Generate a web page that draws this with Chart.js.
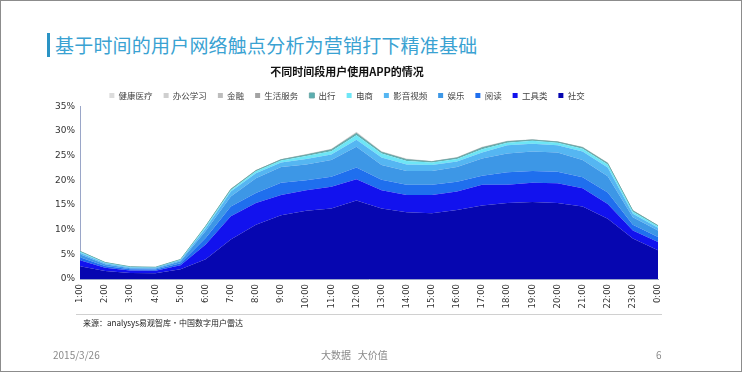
<!DOCTYPE html>
<html>
<head>
<meta charset="utf-8">
<script src="https://cdn.jsdelivr.net/npm/chart.js@4.4.1/dist/chart.umd.min.js"></script>
<style>
  html, body { margin: 0; padding: 0; background: #fff; }
  #slide { position: relative; width: 740px; height: 370px; border: 1px solid #8c8c8c; overflow: hidden;
           font-family: "Noto Sans CJK SC", "Noto Sans", sans-serif; }
  #bar { position: absolute; left: 46px; top: 32px; width: 3px; height: 24px; background: #2a93c4; }
  #head { position: absolute; left: 54px; top: 30px; font-size: 19px; color: #3aa2d2; letter-spacing: 0.2px; }
  #wrap { position: absolute; left: 0; top: 0; width: 740px; height: 370px; }
  #sep { position: absolute; left: 75px; top: 313px; width: 586px; height: 1px; background: #d0d0d0; }
  #src { position: absolute; left: 82px; top: 316px; font-size: 8px; color: #222; }
  .foot { position: absolute; top: 346px; font-size: 10px; color: #8a8a8a; }
</style>
</head>
<body>
<div id="slide">
  <div id="bar"></div>
  <div id="head">基于时间的用户网络触点分析为营销打下精准基础</div>
  <div id="wrap"><canvas id="chart"></canvas></div>
  <div id="sep"></div>
  <div id="src">来源：analysys易观智库·中国数字用户雷达</div>
  <div class="foot" style="left:52px">2015/3/26</div>
  <div class="foot" style="left:320px">大数据&nbsp;&nbsp;&nbsp;大价值</div>
  <div class="foot" style="left:655px">6</div>
</div>
<script>
// 不同时间段用户使用APP的情况 (%)
const hours = ['1:00', '2:00', '3:00', '4:00', '5:00', '6:00', '7:00', '8:00', '9:00', '10:00', '11:00', '12:00',
    '13:00', '14:00', '15:00', '16:00', '17:00', '18:00', '19:00', '20:00', '21:00', '22:00', '23:00', '0:00'];

// stacked bottom to top
const social   = [2.6, 1.6, 1.2, 1.15, 2.0, 4.0, 8.0, 11.0, 12.9, 13.8, 14.3, 15.9, 14.3, 13.5, 13.3, 14.0, 14.9, 15.4, 15.6, 15.4, 14.7, 12.2, 8.2, 5.8];
const tools    = [1.2, 0.7, 0.5, 0.5, 0.8, 3.0, 4.7, 4.4, 4.1, 4.2, 4.4, 4.3, 3.7, 3.5, 3.7, 3.7, 4.2, 3.7, 3.9, 4.0, 3.7, 3.0, 1.6, 1.7];
const reading  = [0.6, 0.35, 0.25, 0.25, 0.4, 1.3, 2.0, 2.0, 2.5, 2.0, 2.0, 2.4, 2.1, 2.1, 2.1, 2.0, 1.8, 2.5, 2.4, 2.3, 2.2, 2.3, 1.2, 1.0];
const fun      = [0.6, 0.35, 0.25, 0.25, 0.4, 1.4, 2.0, 3.0, 3.2, 3.2, 3.4, 4.2, 3.0, 2.8, 2.8, 3.0, 3.5, 3.8, 3.9, 3.9, 3.5, 3.3, 1.5, 1.3];
const video    = [0.3, 0.2, 0.15, 0.12, 0.2, 0.6, 1.0, 1.0, 0.9, 1.1, 1.1, 1.4, 1.5, 1.3, 1.2, 1.1, 1.2, 1.7, 1.6, 1.5, 1.7, 1.8, 0.7, 0.6];
const shopping = [0.2, 0.1, 0.1, 0.08, 0.1, 0.3, 0.3, 0.4, 0.4, 0.6, 0.7, 0.9, 0.8, 0.7, 0.5, 0.5, 0.7, 0.5, 0.6, 0.5, 0.6, 0.6, 0.4, 0.3];
const travel   = [0.1, 0.05, 0.03, 0.03, 0.05, 0.1, 0.15, 0.15, 0.15, 0.2, 0.25, 0.35, 0.25, 0.25, 0.15, 0.2, 0.25, 0.2, 0.15, 0.15, 0.2, 0.2, 0.2, 0.1];
const life     = [0.05, 0.03, 0.01, 0.01, 0.03, 0.05, 0.08, 0.08, 0.08, 0.1, 0.12, 0.17, 0.12, 0.12, 0.08, 0.1, 0.12, 0.1, 0.08, 0.08, 0.1, 0.1, 0.1, 0.05];
const finance  = [0.02, 0.01, 0.005, 0.005, 0.01, 0.02, 0.03, 0.03, 0.03, 0.05, 0.06, 0.08, 0.06, 0.06, 0.03, 0.05, 0.06, 0.05, 0.03, 0.03, 0.05, 0.05, 0.05, 0.02];
const office   = [0.02, 0.005, 0.003, 0.003, 0.005, 0.02, 0.02, 0.02, 0.02, 0.03, 0.04, 0.06, 0.04, 0.04, 0.02, 0.03, 0.04, 0.03, 0.02, 0.02, 0.03, 0.03, 0.03, 0.02];
const health   = [0.01, 0.005, 0.002, 0.002, 0.005, 0.01, 0.02, 0.02, 0.02, 0.02, 0.03, 0.04, 0.03, 0.03, 0.02, 0.02, 0.03, 0.02, 0.02, 0.02, 0.02, 0.02, 0.02, 0.01];

const seriesNames = ['社交', '工具类', '阅读', '娱乐', '影音视频', '电商', '出行', '生活服务', '金融', '办公学习', '健康医疗'];
const seriesData = [social, tools, reading, fun, video, shopping, travel, life, finance, office, health];
const colors = ['#0606b0', '#1212ee', '#1f6fee', '#3d97e6', '#55b6f2', '#6ee6f6', '#5aaeb0', '#a3a3a3', '#bdbdbd', '#cfcfcf', '#dcdcdc'];

const yTicks = [0, 5, 10, 15, 20, 25, 30, 35];

const ctx = document.getElementById('chart').getContext('2d');
new Chart(ctx, {
    type: 'line',
    data: {
        labels: hours,
        datasets: seriesNames.map((name, i) => ({
            label: name,
            data: seriesData[i],
            backgroundColor: colors[i],
            borderColor: i === 6 ? '#6aa8a8' : colors[i],
            borderWidth: i === 6 ? 1 : 0,
            fill: i === 0 ? 'origin' : '-1',
            pointRadius: 0,
            tension: 0
        }))
    },
    options: {
        responsive: true,
        maintainAspectRatio: false,
        animation: false,
        layout: { padding: { left: 35, right: 83, top: 64, bottom: 56 } },
        plugins: {
            title: {
                display: true,
                text: '不同时间段用户使用APP的情况',
                color: '#111',
                font: { size: 11, weight: 'bold', family: '"Noto Sans CJK SC", sans-serif' },
                padding: { top: 0, bottom: 2 }
            },
            legend: {
                reverse: true,
                maxHeight: 26,
                labels: {
                    boxWidth: 5, boxHeight: 5, padding: 11, color: '#444',
                    font: { size: 8.5, family: '"Noto Sans CJK SC", sans-serif' }
                }
            },
            tooltip: { enabled: false }
        },
        scales: {
            x: {
                offset: false,
                grid: { display: false, drawTicks: true, tickLength: 3, color: '#9aa6c8' },
                border: { color: '#9aa6c8' },
                ticks: { autoSkip: false, maxRotation: 90, minRotation: 90, color: '#333', padding: 2,
                         font: { size: 8.5, family: '"DejaVu Sans", sans-serif' } },
                afterFit: s => { s.height = 36; }
            },
            y: {
                stacked: true,
                min: 0, max: 35,
                afterBuildTicks: s => { s.ticks = yTicks.map(v => ({ value: v })); },
                grid: { display: false, drawTicks: true, tickLength: 3 },
                border: { color: '#9aa6c8' },
                ticks: { color: '#333', padding: 2, callback: v => v + '%',
                         font: { size: 9, family: '"DejaVu Sans", sans-serif' } },
                afterFit: s => { s.width = 44; }
            }
        }
    }
});
</script>
</body>
</html>
